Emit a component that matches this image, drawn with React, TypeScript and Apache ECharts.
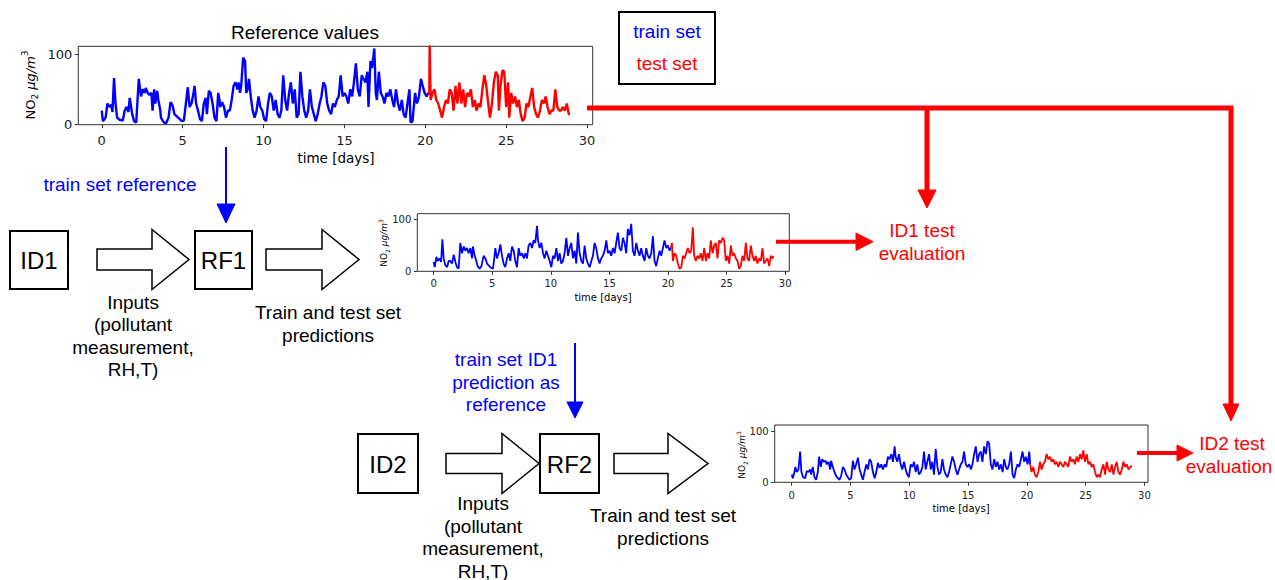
import React, { useEffect, useRef } from "react";
import * as echarts from "echarts";

const TRAIN_COLOR = "#0000ff";
const TEST_COLOR = "#ff0000";

// Hourly NO2 series, sampled at turning points: [time in days, NO2 in µg/m³]
const referenceTrain: number[][] = [
  [0, 20], [0.07, 5], [0.24, 10], [0.35, 30], [0.47, 25], [0.59, 28], [0.66, 18], [0.76, 66], [0.85, 30], [0.95, 10],
  [1.1, 7], [1.3, 6], [1.42, 20], [1.53, 25], [1.65, 18], [1.73, 38], [1.88, 15], [2.0, 5], [2.13, 3], [2.29, 65],
  [2.43, 40], [2.53, 50], [2.65, 45], [2.72, 52], [2.84, 45], [2.95, 42], [3.07, 45], [3.14, 20], [3.24, 50], [3.31, 30],
  [3.43, 48], [3.5, 35], [3.62, 20], [3.66, 10], [3.78, 5], [3.9, 2], [4.0, 3], [4.13, 10], [4.25, 32], [4.37, 28],
  [4.49, 15], [4.72, 10], [4.96, 5], [5.08, 6], [5.2, 30], [5.32, 53], [5.43, 25], [5.55, 30], [5.67, 45], [5.74, 55],
  [5.83, 30], [5.95, 20], [6.07, 8], [6.19, 5], [6.31, 30], [6.43, 38], [6.5, 15], [6.62, 48], [6.73, 45], [6.85, 30],
  [6.97, 10], [7.09, 5], [7.2, 45], [7.28, 35], [7.32, 25], [7.44, 32], [7.56, 25], [7.68, 10], [7.8, 20], [7.92, 20],
  [8.03, 35], [8.15, 55], [8.27, 60], [8.39, 50], [8.46, 60], [8.55, 45], [8.62, 55], [8.74, 95], [8.86, 90], [8.93, 45],
  [9.02, 50], [9.1, 65], [9.21, 40], [9.33, 20], [9.45, 10], [9.57, 20], [9.69, 40], [9.8, 25], [9.92, 20], [10.04, 8],
  [10.16, 5], [10.28, 30], [10.39, 45], [10.51, 40], [10.63, 20], [10.75, 35], [10.87, 15], [10.99, 10], [11.1, 20], [11.22, 70],
  [11.34, 35], [11.46, 20], [11.58, 45], [11.69, 60], [11.81, 30], [11.93, 50], [12.05, 10], [12.17, 15], [12.28, 75], [12.4, 40],
  [12.52, 20], [12.64, 10], [12.76, 20], [12.87, 50], [12.99, 25], [13.11, 15], [13.23, 5], [13.35, 15], [13.47, 30], [13.58, 40],
  [13.7, 60], [13.82, 55], [13.94, 30], [14.06, 20], [14.18, 15], [14.29, 30], [14.41, 25], [14.53, 35], [14.65, 40], [14.77, 70],
  [14.89, 40], [15.0, 45], [15.12, 40], [15.24, 30], [15.36, 50], [15.48, 40], [15.59, 60], [15.71, 87], [15.83, 50], [15.95, 40],
  [16.07, 70], [16.18, 65], [16.3, 60], [16.42, 75], [16.49, 25], [16.61, 90], [16.71, 80], [16.85, 108], [16.94, 45], [17.01, 35],
  [17.13, 75], [17.25, 45], [17.36, 40], [17.48, 30], [17.6, 45], [17.72, 40], [17.84, 50], [17.96, 35], [18.07, 25], [18.19, 50],
  [18.31, 30], [18.43, 20], [18.55, 35], [18.66, 15], [18.78, 10], [18.9, 30], [19.02, 50], [19.09, 3], [19.21, 5], [19.37, 45],
  [19.49, 30], [19.61, 40], [19.73, 65], [19.84, 55], [19.96, 45], [20.08, 40], [20.2, 45], [20.25, 42],
];
const referenceTest: number[][] = [
  [20.25, 42], [20.27, 112], [20.33, 35], [20.45, 45], [20.57, 50], [20.68, 35], [20.8, 30], [20.92, 20], [21.04, 10], [21.16, 25],
  [21.28, 35], [21.4, 30], [21.51, 50], [21.63, 45], [21.75, 20], [21.87, 55], [21.99, 30], [22.11, 60], [22.23, 30], [22.34, 50],
  [22.46, 25], [22.58, 45], [22.7, 40], [22.82, 50], [22.94, 25], [23.06, 35], [23.17, 20], [23.29, 30], [23.41, 25], [23.53, 50],
  [23.65, 70], [23.77, 55], [23.89, 30], [24.0, 10], [24.12, 30], [24.24, 60], [24.36, 75], [24.48, 70], [24.55, 20], [24.65, 55],
  [24.77, 77], [24.88, 75], [25.0, 25], [25.12, 60], [25.19, 10], [25.31, 45], [25.43, 30], [25.55, 40], [25.67, 25], [25.78, 35],
  [25.9, 15], [26.02, 5], [26.14, 10], [26.26, 30], [26.38, 25], [26.5, 40], [26.61, 52], [26.73, 25], [26.85, 15], [26.97, 10],
  [27.09, 20], [27.21, 35], [27.33, 30], [27.44, 40], [27.56, 25], [27.68, 15], [27.8, 20], [27.92, 20], [28.04, 50], [28.16, 25],
  [28.27, 20], [28.39, 20], [28.51, 25], [28.63, 20], [28.75, 30], [28.87, 15], [28.95, 15],
];

const id1Train: number[][] = [
  [0, 18], [0.09, 8], [0.23, 28], [0.34, 20], [0.51, 25], [0.63, 18], [0.74, 62], [0.85, 25], [0.99, 12], [1.14, 8],
  [1.28, 20], [1.42, 20], [1.56, 15], [1.71, 32], [1.85, 18], [1.99, 8], [2.13, 5], [2.27, 55], [2.42, 35], [2.56, 48],
  [2.7, 40], [2.84, 45], [2.98, 35], [3.13, 45], [3.27, 25], [3.35, 48], [3.5, 30], [3.64, 20], [3.75, 10], [3.92, 5],
  [4.07, 10], [4.26, 30], [4.41, 25], [4.55, 15], [4.83, 8], [5.06, 5], [5.17, 25], [5.26, 45], [5.4, 25], [5.54, 35],
  [5.69, 52], [5.83, 30], [5.97, 15], [6.11, 8], [6.26, 25], [6.4, 35], [6.54, 20], [6.68, 48], [6.82, 40], [6.97, 20],
  [7.11, 8], [7.25, 45], [7.39, 30], [7.54, 35], [7.68, 25], [7.82, 35], [7.96, 25], [8.1, 50], [8.25, 55], [8.39, 45],
  [8.53, 60], [8.67, 55], [8.82, 88], [8.9, 60], [9.04, 45], [9.19, 55], [9.33, 35], [9.47, 25], [9.61, 40], [9.75, 30],
  [9.9, 20], [10.04, 8], [10.18, 30], [10.32, 25], [10.47, 45], [10.61, 20], [10.75, 35], [10.89, 15], [11.03, 20], [11.17, 35],
  [11.32, 65], [11.46, 30], [11.6, 45], [11.74, 55], [11.89, 25], [12.03, 40], [12.17, 15], [12.31, 75], [12.45, 35], [12.6, 20],
  [12.74, 15], [12.88, 50], [13.02, 25], [13.16, 15], [13.31, 8], [13.45, 20], [13.59, 30], [13.73, 55], [13.87, 45], [14.02, 25],
  [14.16, 15], [14.3, 25], [14.44, 30], [14.59, 40], [14.73, 60], [14.87, 35], [15.01, 40], [15.15, 30], [15.3, 45], [15.44, 35],
  [15.58, 55], [15.72, 75], [15.86, 45], [16.01, 40], [16.15, 65], [16.29, 55], [16.43, 35], [16.57, 82], [16.72, 70], [16.86, 92],
  [17.0, 40], [17.14, 30], [17.29, 55], [17.43, 40], [17.57, 30], [17.71, 45], [17.85, 30], [18.0, 20], [18.14, 45], [18.28, 30],
  [18.42, 25], [18.57, 35], [18.71, 68], [18.85, 20], [18.99, 10], [19.13, 25], [19.28, 40], [19.42, 30], [19.56, 45], [19.7, 60],
  [19.85, 45], [19.99, 50], [20.13, 40], [20.24, 45],
];
const id1Test: number[][] = [
  [20.24, 45], [20.33, 55], [20.41, 20], [20.56, 35], [20.7, 30], [20.84, 15], [20.98, 5], [21.13, 8], [21.27, 30], [21.41, 25],
  [21.55, 35], [21.69, 45], [21.84, 35], [21.98, 40], [22.12, 85], [22.23, 30], [22.37, 20], [22.52, 30], [22.66, 25], [22.8, 35],
  [22.94, 20], [23.09, 45], [23.23, 20], [23.37, 35], [23.51, 25], [23.65, 60], [23.8, 35], [23.94, 50], [24.08, 55], [24.22, 25],
  [24.36, 60], [24.51, 55], [24.65, 65], [24.79, 60], [24.93, 20], [25.08, 30], [25.22, 15], [25.36, 50], [25.5, 30], [25.64, 35],
  [25.79, 25], [25.93, 20], [26.07, 5], [26.21, 10], [26.35, 30], [26.5, 20], [26.64, 55], [26.78, 25], [26.92, 20], [27.06, 50],
  [27.21, 30], [27.35, 20], [27.49, 30], [27.63, 15], [27.78, 25], [27.92, 20], [28.06, 45], [28.2, 15], [28.34, 20], [28.49, 25],
  [28.63, 10], [28.77, 30], [28.91, 25], [29.0, 30],
];

const id2Train: number[][] = [
  [0, 15], [0.09, 8], [0.23, 20], [0.31, 30], [0.43, 20], [0.57, 25], [0.71, 60], [0.82, 20], [0.97, 10], [1.14, 8],
  [1.28, 22], [1.42, 20], [1.56, 25], [1.65, 15], [1.79, 30], [1.93, 10], [2.07, 5], [2.22, 20], [2.33, 50], [2.47, 30],
  [2.59, 45], [2.73, 40], [2.87, 42], [2.98, 35], [3.13, 40], [3.27, 25], [3.35, 42], [3.49, 30], [3.64, 20], [3.78, 12],
  [3.92, 8], [4.06, 5], [4.2, 12], [4.35, 30], [4.49, 25], [4.63, 15], [4.77, 10], [4.91, 5], [5.06, 8], [5.2, 42],
  [5.34, 25], [5.48, 35], [5.63, 48], [5.77, 25], [5.91, 15], [6.05, 5], [6.19, 20], [6.34, 35], [6.48, 25], [6.62, 45],
  [6.76, 40], [6.9, 20], [7.05, 8], [7.19, 20], [7.33, 38], [7.47, 28], [7.61, 35], [7.76, 25], [7.9, 35], [8.04, 30],
  [8.18, 50], [8.32, 45], [8.47, 55], [8.61, 40], [8.75, 70], [8.83, 50], [8.98, 40], [9.12, 55], [9.26, 35], [9.4, 25],
  [9.55, 40], [9.69, 25], [9.83, 15], [9.97, 10], [10.11, 35], [10.26, 30], [10.4, 40], [10.54, 20], [10.68, 35], [10.82, 15],
  [10.97, 20], [11.11, 30], [11.25, 60], [11.39, 25], [11.53, 40], [11.68, 55], [11.82, 25], [11.96, 40], [12.1, 15], [12.24, 65],
  [12.39, 30], [12.53, 15], [12.67, 20], [12.81, 45], [12.95, 25], [13.1, 15], [13.24, 10], [13.38, 20], [13.52, 35], [13.66, 50],
  [13.81, 40], [13.95, 25], [14.09, 15], [14.23, 25], [14.38, 35], [14.52, 40], [14.66, 60], [14.8, 35], [14.94, 30], [15.09, 35],
  [15.23, 25], [15.37, 35], [15.51, 55], [15.65, 70], [15.8, 40], [15.94, 55], [16.08, 60], [16.22, 40], [16.36, 70], [16.51, 55],
  [16.65, 80], [16.79, 75], [16.93, 35], [17.07, 25], [17.22, 45], [17.36, 30], [17.5, 40], [17.64, 25], [17.78, 35], [17.93, 20],
  [18.07, 45], [18.21, 30], [18.35, 25], [18.49, 35], [18.64, 60], [18.78, 15], [18.92, 8], [19.06, 25], [19.2, 35], [19.35, 30],
  [19.49, 45], [19.63, 60], [19.77, 40], [19.91, 50], [20.06, 35], [20.2, 60], [20.28, 35],
];
const id2Test: number[][] = [
  [20.28, 35], [20.4, 20], [20.54, 30], [20.68, 15], [20.82, 10], [20.97, 20], [21.11, 40], [21.25, 25], [21.39, 35], [21.53, 40],
  [21.68, 55], [21.82, 45], [21.96, 50], [22.1, 40], [22.24, 45], [22.39, 35], [22.53, 40], [22.67, 30], [22.81, 40], [22.95, 35],
  [23.1, 30], [23.24, 40], [23.38, 35], [23.52, 30], [23.66, 50], [23.81, 40], [23.95, 45], [24.09, 35], [24.23, 50], [24.38, 40],
  [24.52, 55], [24.66, 45], [24.8, 62], [24.94, 40], [25.09, 55], [25.23, 35], [25.37, 40], [25.51, 30], [25.65, 35], [25.8, 20],
  [25.94, 10], [26.08, 15], [26.22, 10], [26.36, 25], [26.51, 35], [26.65, 15], [26.79, 40], [26.93, 25], [27.07, 20], [27.22, 35],
  [27.36, 15], [27.5, 30], [27.64, 40], [27.78, 20], [27.93, 15], [28.07, 25], [28.21, 40], [28.35, 30], [28.49, 35], [28.64, 25],
  [28.78, 30], [28.92, 32],
];

const dayTicks = [0, 5, 10, 15, 20, 25, 30];
const concTicks = [0, 100];

const SANS = '"Liberation Sans", Arial, sans-serif';
const PLOT_FONT = '"DejaVu Sans", sans-serif';

type Panel = {
  left: number; top: number; width: number; height: number;
  xMin: number; xMax: number; yMax: number;
  font: number; lineWidth: number; xMargin: number; yMargin: number;
  train: number[][]; test: number[][];
  nameX: number; nameY: number; yNameX: number; yNameY: number;
};

const panels: Panel[] = [
  {
    left: 78.3, top: 46.3, width: 514.4, height: 78.4, xMin: -1.45, xMax: 30.35, yMax: 111,
    font: 13, lineWidth: 2.4, xMargin: 9, yMargin: 6, train: referenceTrain, test: referenceTest,
    nameX: 336, nameY: 158, yNameX: 30, yNameY: 85,
  },
  {
    left: 417.3, top: 213.7, width: 372, height: 57.6, xMin: -1.4, xMax: 30.35, yMax: 111.6,
    font: 10, lineWidth: 1.8, xMargin: 7, yMargin: 6, train: id1Train, test: id1Test,
    nameX: 603, nameY: 297, yNameX: 384, yNameY: 243,
  },
  {
    left: 774.7, top: 425, width: 373.3, height: 57.3, xMin: -1.45, xMax: 30.3, yMax: 111.7,
    font: 10, lineWidth: 1.8, xMargin: 8, yMargin: 6, train: id2Train, test: id2Test,
    nameX: 961, nameY: 508, yNameX: 742, yNameY: 455,
  },
];

function label(x: number, y: number, text: string, fill = "#000", size = 19, family = SANS) {
  return {
    type: "text", x, y, z: 20,
    style: {
      text, fill, font: `${size}px ${family}`,
      textAlign: "center", textVerticalAlign: "middle", align: "center", verticalAlign: "middle",
    },
  };
}

function yName(x: number, y: number, size: number) {
  const sub = Math.round(size * 0.7);
  return {
    type: "text", x, y, rotation: Math.PI / 2, z: 20,
    style: {
      text: "{a|NO}{b|2}{a| }{c|μg/m}{d|3}",
      textAlign: "center", textVerticalAlign: "middle", align: "center", verticalAlign: "middle",
      rich: {
        a: { fontSize: size, fontFamily: PLOT_FONT, fill: "#000", lineHeight: size * 1.4, verticalAlign: "middle" },
        b: { fontSize: sub, fontFamily: PLOT_FONT, fill: "#000", lineHeight: size * 1.4, verticalAlign: "bottom" },
        c: { fontSize: size, fontFamily: PLOT_FONT, fontStyle: "italic", fill: "#000", lineHeight: size * 1.4, verticalAlign: "middle" },
        d: { fontSize: sub, fontFamily: PLOT_FONT, fill: "#000", lineHeight: size * 1.4, verticalAlign: "top" },
      },
    },
  };
}

function box(x: number, y: number, w: number, h: number, text: string, cx: number, cy: number) {
  return [
    { type: "rect", z: 10, shape: { x, y, width: w, height: h }, style: { fill: "#fff", stroke: "#000", lineWidth: 2 } },
    label(cx, cy, text, "#000", 24),
  ];
}

// Hollow block arrow: shaft from x0 to x1 (head base), tip at x2
function blockArrow(x0: number, x1: number, x2: number, cy: number, shaftHalf: number, headHalf: number) {
  return {
    type: "polygon", z: 10,
    shape: {
      points: [
        [x0, cy - shaftHalf], [x1, cy - shaftHalf], [x1, cy - headHalf], [x2, cy],
        [x1, cy + headHalf], [x1, cy + shaftHalf], [x0, cy + shaftHalf],
      ],
    },
    style: { fill: "#fff", stroke: "#000", lineWidth: 1.5 },
  };
}

function seg(points: number[][], color: string, width: number) {
  return { type: "polyline", z: 12, shape: { points }, style: { stroke: color, lineWidth: width, fill: null } };
}

function head(points: number[][], color: string) {
  return { type: "polygon", z: 12, shape: { points }, style: { fill: color, stroke: color, lineWidth: 1 } };
}

export default function App() {
  const ref = useRef<HTMLDivElement>(null);

  useEffect(() => {
    if (!ref.current) return;
    const chart = echarts.init(ref.current, undefined, { renderer: "svg" });

    const grid = panels.map((p) => ({
      left: p.left, top: p.top, width: p.width, height: p.height,
      show: true, borderColor: "#333", borderWidth: 1, backgroundColor: "transparent",
    }));
    const xAxis = panels.map((p, i) => ({
      type: "value", gridIndex: i, min: p.xMin, max: p.xMax,
      axisLine: { show: false, onZero: false },
      splitLine: { show: false },
      axisTick: { show: true, length: 3.5, customValues: dayTicks, lineStyle: { color: "#333", width: 1 } },
      axisLabel: { customValues: dayTicks, fontSize: p.font, fontFamily: PLOT_FONT, color: "#222", margin: p.xMargin },
    }));
    const yAxis = panels.map((p, i) => ({
      type: "value", gridIndex: i, min: 0, max: p.yMax,
      axisLine: { show: false, onZero: false },
      splitLine: { show: false },
      axisTick: { show: true, length: 3.5, customValues: concTicks, lineStyle: { color: "#333", width: 1 } },
      axisLabel: { customValues: concTicks, fontSize: p.font, fontFamily: PLOT_FONT, color: "#222", margin: p.yMargin },
    }));
    const series: any[] = [];
    panels.forEach((p, i) => {
      series.push({
        type: "line", xAxisIndex: i, yAxisIndex: i, data: p.train, showSymbol: false, symbol: "none",
        clip: true, lineStyle: { color: TRAIN_COLOR, width: p.lineWidth }, itemStyle: { color: TRAIN_COLOR },
      });
      series.push({
        type: "line", xAxisIndex: i, yAxisIndex: i, data: p.test, showSymbol: false, symbol: "none",
        clip: true, lineStyle: { color: TEST_COLOR, width: p.lineWidth }, itemStyle: { color: TEST_COLOR },
      });
    });

    const elements: any[] = [
      // plot titles and axis names
      label(305, 32, "Reference values", "#000", 19),
      ...panels.map((p, i) => label(p.nameX, p.nameY, "time [days]", "#000", i === 0 ? 13.5 : 10, PLOT_FONT)),
      ...panels.map((p, i) => yName(p.yNameX, p.yNameY, i === 0 ? 13 : 9)),

      // legend box
      { type: "rect", z: 10, shape: { x: 619, y: 12, width: 96, height: 72 }, style: { fill: "none", stroke: "#000", lineWidth: 2 } },
      label(667, 31, "train set", TRAIN_COLOR, 19),
      label(667, 63, "test set", TEST_COLOR, 19),

      // test-set evaluation links
      seg([[587, 108], [1231, 108], [1231, 406]], TEST_COLOR, 5),
      head([[1223, 404], [1239, 404], [1231, 421]], TEST_COLOR),
      seg([[927, 108], [927, 192]], TEST_COLOR, 5),
      head([[918, 190], [936, 190], [927, 208]], TEST_COLOR),
      seg([[776, 241.7], [859, 241.7]], TEST_COLOR, 4),
      head([[856, 233], [873, 241.7], [856, 250.4]], TEST_COLOR),
      seg([[1137, 453], [1180, 453]], TEST_COLOR, 4),
      head([[1177, 445], [1193, 453], [1177, 461]], TEST_COLOR),
      label(922, 230, "ID1 test", TEST_COLOR, 19),
      label(922, 253, "evaluation", TEST_COLOR, 19),
      label(1232, 443, "ID2 test", TEST_COLOR, 19),
      label(1229, 466, "evaluation", TEST_COLOR, 19),

      // first training stage
      seg([[226, 147], [226, 207]], TRAIN_COLOR, 2),
      head([[217, 204], [235, 204], [226, 223]], TRAIN_COLOR),
      label(120, 184, "train set reference", TRAIN_COLOR, 19),
      ...box(10, 231, 58, 58, "ID1", 39, 260),
      blockArrow(97, 152, 189, 259.5, 10.5, 30),
      ...box(195, 231, 57, 58, "RF1", 223.5, 260),
      blockArrow(266, 322, 359, 259.5, 10.5, 30),
      label(133, 302, "Inputs"),
      label(133, 324, "(pollutant"),
      label(133, 347, "measurement,"),
      label(133, 369, "RH,T)"),
      label(328, 312, "Train and test set"),
      label(328, 335, "predictions"),

      // second training stage
      seg([[575, 343], [575, 405]], TRAIN_COLOR, 2),
      head([[567, 402], [583, 402], [575, 418]], TRAIN_COLOR),
      label(506, 359, "train set ID1", TRAIN_COLOR, 19),
      label(506, 382, "prediction as", TRAIN_COLOR, 19),
      label(506, 404, "reference", TRAIN_COLOR, 19),
      ...box(358, 434, 60, 59, "ID2", 388, 464),
      blockArrow(446, 502, 539, 463.5, 10, 30),
      ...box(540, 434, 59, 59, "RF2", 569.5, 464),
      blockArrow(614, 668, 708, 463.5, 10, 30),
      label(483, 503, "Inputs"),
      label(483, 526, "(pollutant"),
      label(483, 548, "measurement,"),
      label(483, 571, "RH,T)"),
      label(663, 515, "Train and test set"),
      label(663, 538, "predictions"),
    ];

    chart.setOption({
      animation: false,
      backgroundColor: "#fff",
      grid, xAxis, yAxis, series,
      graphic: { elements },
    });

    return () => chart.dispose();
  }, []);

  return (
    <div
      ref={ref}
      style={{ position: "fixed", left: 0, top: 0, width: 1275, height: 580 }}
    />
  );
}
